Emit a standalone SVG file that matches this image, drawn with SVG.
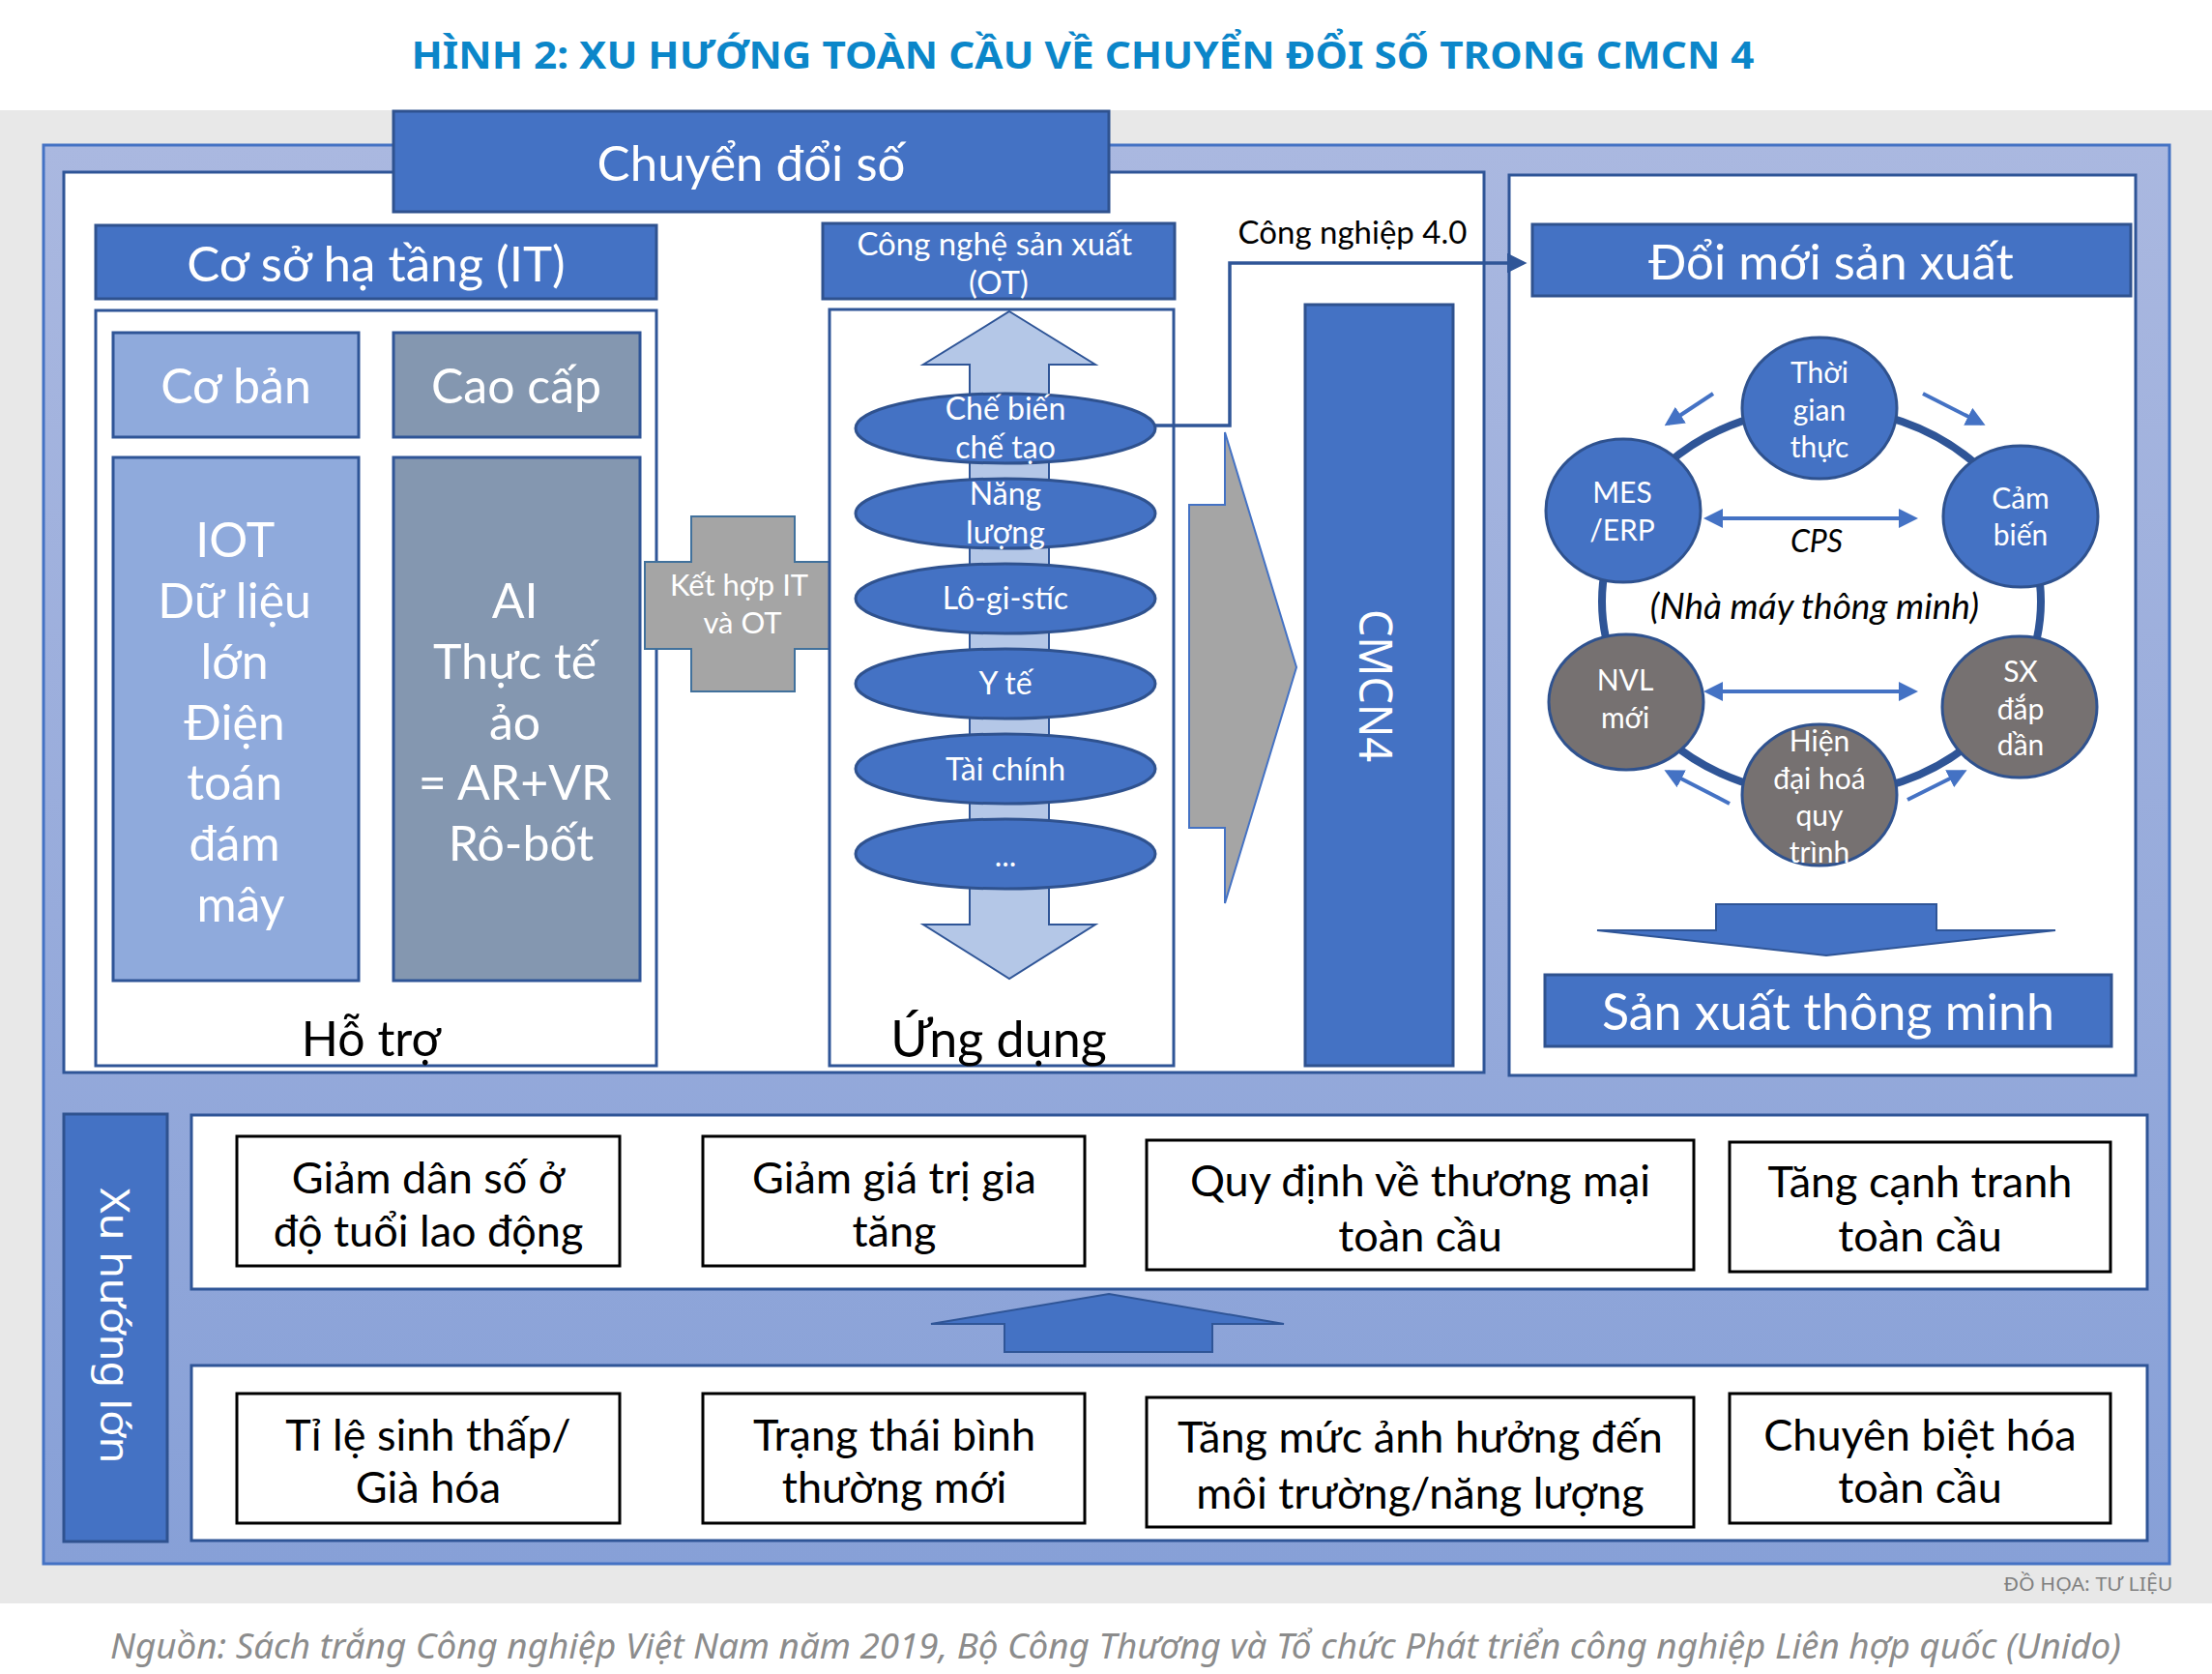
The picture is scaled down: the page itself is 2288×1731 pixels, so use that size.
<svg xmlns="http://www.w3.org/2000/svg" width="2288" height="1731" viewBox="0 0 2288 1731">
<defs>
<linearGradient id="frameGrad" x1="0" y1="0" x2="0" y2="1">
<stop offset="0" stop-color="#aab8e0"/>
<stop offset="1" stop-color="#87a0d7"/>
</linearGradient>
<marker id="ah" markerWidth="6" markerHeight="6" refX="5" refY="3" orient="auto" markerUnits="strokeWidth">
<path d="M0,0 L6,3 L0,6 z" fill="#2f5597"/>
</marker>
<marker id="ahs" markerWidth="5" markerHeight="5" refX="4" refY="2.5" orient="auto" markerUnits="strokeWidth">
<path d="M0,0 L5,2.5 L0,5 z" fill="#4472c4"/>
</marker>
<marker id="ahsStart" markerWidth="5" markerHeight="5" refX="1" refY="2.5" orient="auto-start-reverse" markerUnits="strokeWidth">
<path d="M0,0 L5,2.5 L0,5 z" fill="#4472c4"/>
</marker>
</defs>
<style>
.f{font-family:Lato,"Liberation Sans","Noto Sans",sans-serif;text-anchor:middle;dominant-baseline:central}
.g{font-family:"Noto Sans","Liberation Sans",sans-serif;text-anchor:middle;dominant-baseline:central}
.wt{fill:#ffffff}
.bk{fill:#000000}
.blue{fill:#4472c4;stroke:#2f528f;stroke-width:3}
.panel{fill:#ffffff;stroke:#2f5597;stroke-width:3}
.lb{fill:#8faadc;stroke:#2f5597;stroke-width:3}
.gb{fill:#8497b0;stroke:#2f5597;stroke-width:3}
.ell{fill:#4472c4;stroke:#2f528f;stroke-width:3}
.gc{fill:#767171;stroke:#2f528f;stroke-width:3}
.tbox{fill:#ffffff;stroke:#000000;stroke-width:3}
.sa{stroke:#4472c4;stroke-width:4;fill:none}
</style>

<rect x="0" y="0" width="2288" height="1731" fill="#ffffff"/>
<rect x="0" y="114" width="2288" height="1544" fill="#e8e8e8"/>
<text class="g" x="1120" y="55" font-size="40" font-weight="700" fill="#0b86c9" textLength="1389" lengthAdjust="spacingAndGlyphs">HÌNH 2: XU HƯỚNG TOÀN CẦU VỀ CHUYỂN ĐỔI SỐ TRONG CMCN 4</text>

<rect id="frame" x="45" y="150" width="2199" height="1467" fill="url(#frameGrad)" stroke="#4472c4" stroke-width="3"/>

<g id="left-panel"><rect x="66" y="178" width="1469" height="931" class="panel"/></g>
<g id="right-panel"><rect x="1561" y="181" width="648" height="931" class="panel"/></g>

<g id="chuyen-doi-so">
<rect x="407" y="115" width="740" height="104" class="blue"/>
<text class="f wt" x="777" y="167" font-size="51">Chuyển đổi số</text>
</g>

<g id="co-so-ha-tang">
<rect x="99" y="233" width="580" height="76" class="blue"/>
<text class="f wt" x="389" y="271" font-size="51">Cơ sở hạ tầng (IT)</text>
</g>

<g id="ho-tro">
<rect x="99" y="321" width="580" height="781" class="panel"/>
<text class="f bk" x="384" y="1073" font-size="50">Hỗ trợ</text>
</g>

<g id="co-ban">
<rect x="117" y="344" width="254" height="108" class="lb"/>
<text class="f wt" x="244" y="398" font-size="50">Cơ bản</text>
</g>
<g id="cao-cap">
<rect x="407" y="344" width="255" height="108" class="gb"/>
<text class="f wt" x="534" y="398" font-size="50">Cao cấp</text>
</g>
<g id="iot">
<rect x="117" y="473" width="254" height="541" class="lb"/>
<text class="f wt" font-size="50">
<tspan x="249" y="557">IOT</tspan>
<tspan x="249" y="620">Dữ liệu</tspan>
<tspan x="249" y="683">lớn</tspan>
<tspan x="249" y="746">Điện</tspan>
<tspan x="249" y="808">toán</tspan>
<tspan x="249" y="871">đám</tspan>
<tspan x="249" y="934">mây</tspan>
</text>
</g>
<g id="ai">
<rect x="407" y="473" width="255" height="541" class="gb"/>
<text class="f wt" font-size="50">
<tspan x="539" y="620">AI</tspan>
<tspan x="539" y="683">Thực tế</tspan>
<tspan x="539" y="746">ảo</tspan>
<tspan x="539" y="808">= AR+VR</tspan>
<tspan x="539" y="871">Rô-bốt</tspan>
</text>
</g>

<g id="ket-hop">
<polygon points="715,534 822,534 822,581 871,581 871,671 822,671 822,715 715,715 715,671 667,671 667,581 715,581" fill="#a5a5a5" stroke="#41719c" stroke-width="2"/>
<text class="f wt" font-size="31">
<tspan x="768" y="604">Kết hợp IT</tspan>
<tspan x="768" y="643">và OT</tspan>
</text>
</g>

<g id="ot-header">
<rect x="851" y="231" width="364" height="78" class="blue"/>
<text class="f wt" font-size="33">
<tspan x="1033" y="251">Công nghệ sản xuất</tspan>
<tspan x="1033" y="291">(OT)</tspan>
</text>
</g>

<g id="ung-dung">
<rect x="858" y="320" width="356" height="782" class="panel"/>
<polygon points="1044,322 1133,377 1085,377 1085,956 1133,956 1044,1012 955,956 1003,956 1003,377 955,377" fill="#b4c7e7" stroke="#2f5597" stroke-width="2"/>
<text class="f bk" x="1033" y="1073" font-size="52">Ứng dụng</text>
</g>

<g id="e-che-bien">
<ellipse cx="1040" cy="443" rx="155" ry="36" class="ell"/>
<text class="f wt" font-size="32"><tspan x="1040" y="421">Chế biến</tspan><tspan x="1040" y="461">chế tạo</tspan></text>
</g>
<g id="e-nang-luong">
<ellipse cx="1040" cy="531" rx="155" ry="36" class="ell"/>
<text class="f wt" font-size="32"><tspan x="1040" y="509">Năng</tspan><tspan x="1040" y="549">lượng</tspan></text>
</g>
<g id="e-logistic">
<ellipse cx="1040" cy="619" rx="155" ry="36" class="ell"/>
<text class="f wt" x="1040" y="617" font-size="32">Lô-gi-stíc</text>
</g>
<g id="e-y-te">
<ellipse cx="1040" cy="707" rx="155" ry="36" class="ell"/>
<text class="f wt" x="1040" y="705" font-size="32">Y tế</text>
</g>
<g id="e-tai-chinh">
<ellipse cx="1040" cy="795" rx="155" ry="36" class="ell"/>
<text class="f wt" x="1040" y="794" font-size="32">Tài chính</text>
</g>
<g id="e-etc">
<ellipse cx="1040" cy="883" rx="155" ry="36" class="ell"/>
<text class="f wt" x="1040" y="883" font-size="32">...</text>
</g>

<g id="gray-arrow">
<polygon points="1230,522 1267,522 1267,447 1341,690 1267,934 1267,856 1230,856" fill="#a5a5a5" stroke="#4472c4" stroke-width="2"/>
</g>

<g id="cmcn4">
<rect x="1350" y="315" width="153" height="787" class="blue"/>
<text class="g wt" font-size="48" transform="translate(1424,709) rotate(90)" textLength="158" lengthAdjust="spacingAndGlyphs">CMCN4</text>
</g>

<text class="f bk" x="1399" y="239" font-size="33">Công nghiệp 4.0</text>

<g id="connectors">
<path d="M1195,440 H1272 V272 H1576" fill="none" stroke="#2f5597" stroke-width="3.5" marker-end="url(#ah)"/>
<ellipse cx="1884" cy="622" rx="227" ry="200" fill="none" stroke="#2f5597" stroke-width="8"/>
<line x1="1772" y1="407" x2="1725" y2="438" class="sa" marker-end="url(#ahs)"/>
<line x1="1989" y1="407" x2="2050" y2="438" class="sa" marker-end="url(#ahs)"/>
<line x1="1789" y1="831" x2="1725" y2="798" class="sa" marker-end="url(#ahs)"/>
<line x1="1973" y1="827" x2="2031" y2="798" class="sa" marker-end="url(#ahs)"/>
<line x1="1778" y1="536" x2="1980" y2="536" class="sa" marker-start="url(#ahsStart)" marker-end="url(#ahs)"/>
<line x1="1778" y1="715" x2="1980" y2="715" class="sa" marker-start="url(#ahsStart)" marker-end="url(#ahs)"/>
<polygon points="1147,1338 1328,1369 1254,1369 1254,1398 1039,1398 1039,1369 963,1369" fill="#4472c4" stroke="#2f5597" stroke-width="2"/>
<polygon points="1775,935 2003,935 2003,962 2126,962 1889,988 1652,962 1775,962" fill="#4472c4" stroke="#2f5597" stroke-width="2"/>
</g>

<g id="doi-moi">
<rect x="1585" y="232" width="619" height="74" class="blue"/>
<text class="f wt" x="1894" y="269" font-size="51">Đổi mới sản xuất</text>
</g>

<g id="c-thoi-gian">
<ellipse cx="1882" cy="422" rx="80" ry="73" class="ell"/>
<text class="f wt" font-size="30"><tspan x="1882" y="384">Thời</tspan><tspan x="1882" y="423">gian</tspan><tspan x="1882" y="461">thực</tspan></text>
</g>
<g id="c-mes">
<ellipse cx="1679" cy="528" rx="80" ry="74" class="ell"/>
<text class="f wt" font-size="30"><tspan x="1678" y="508">MES</tspan><tspan x="1678" y="547">/ERP</tspan></text>
</g>
<g id="c-cam-bien">
<ellipse cx="2090" cy="534" rx="80" ry="73" class="ell"/>
<text class="f wt" font-size="30"><tspan x="2090" y="514">Cảm</tspan><tspan x="2090" y="552">biến</tspan></text>
</g>
<g id="c-nvl">
<ellipse cx="1682" cy="726" rx="80" ry="70" class="gc"/>
<text class="f wt" font-size="30"><tspan x="1681" y="702">NVL</tspan><tspan x="1681" y="741">mới</tspan></text>
</g>
<g id="c-sx">
<ellipse cx="2089" cy="731" rx="80" ry="73" class="gc"/>
<text class="f wt" font-size="30"><tspan x="2090" y="693">SX</tspan><tspan x="2090" y="732">đắp</tspan><tspan x="2090" y="769">dần</tspan></text>
</g>
<g id="c-hien-dai">
<ellipse cx="1882" cy="822" rx="80" ry="73" class="gc"/>
<text class="f wt" font-size="30"><tspan x="1882" y="765">Hiện</tspan><tspan x="1882" y="804">đại hoá</tspan><tspan x="1882" y="842">quy</tspan><tspan x="1882" y="880">trình</tspan></text>
</g>
<text class="f bk" x="1879" y="558" font-size="32" font-style="italic">CPS</text>
<text class="f bk" x="1877" y="625" font-size="37" font-style="italic">(Nhà máy thông minh)</text>

<g id="san-xuat-thong-minh">
<rect x="1598" y="1008" width="586" height="74" class="blue"/>
<text class="f wt" x="1891" y="1045" font-size="52">Sản xuất thông minh</text>
</g>

<g id="xu-huong-lon">
<rect x="66" y="1152" width="107" height="442" class="blue"/>
<text class="g wt" font-size="42" transform="translate(120,1371) rotate(90)" textLength="285" lengthAdjust="spacingAndGlyphs">Xu hướng lớn</text>
</g>

<g id="band-top"><rect x="198" y="1153" width="2023" height="180" class="panel"/></g>
<g id="band-bottom"><rect x="198" y="1412" width="2023" height="181" class="panel"/></g>

<g id="b-giam-dan-so">
<rect x="245" y="1175" width="396" height="134" class="tbox"/>
<text class="f bk" font-size="45"><tspan x="443" y="1217">Giảm dân số ở</tspan><tspan x="443" y="1272">độ tuổi lao động</tspan></text>
</g>
<g id="b-giam-gia-tri">
<rect x="727" y="1175" width="395" height="134" class="tbox"/>
<text class="f bk" font-size="45"><tspan x="925" y="1217">Giảm giá trị gia</tspan><tspan x="925" y="1272">tăng</tspan></text>
</g>
<g id="b-quy-dinh">
<rect x="1186" y="1179" width="566" height="134" class="tbox"/>
<text class="f bk" font-size="45"><tspan x="1469" y="1220">Quy định về thương mại</tspan><tspan x="1469" y="1277">toàn cầu</tspan></text>
</g>
<g id="b-tang-canh-tranh">
<rect x="1789" y="1181" width="394" height="134" class="tbox"/>
<text class="f bk" font-size="45"><tspan x="1986" y="1221">Tăng cạnh tranh</tspan><tspan x="1986" y="1277">toàn cầu</tspan></text>
</g>
<g id="b-ti-le-sinh">
<rect x="245" y="1441" width="396" height="134" class="tbox"/>
<text class="f bk" font-size="45"><tspan x="443" y="1483">Tỉ lệ sinh thấp/</tspan><tspan x="443" y="1537">Già hóa</tspan></text>
</g>
<g id="b-trang-thai">
<rect x="727" y="1441" width="395" height="134" class="tbox"/>
<text class="f bk" font-size="45"><tspan x="925" y="1483">Trạng thái bình</tspan><tspan x="925" y="1537">thường mới</tspan></text>
</g>
<g id="b-tang-muc">
<rect x="1186" y="1445" width="566" height="134" class="tbox"/>
<text class="f bk" font-size="45"><tspan x="1469" y="1485">Tăng mức ảnh hưởng đến</tspan><tspan x="1469" y="1543">môi trường/năng lượng</tspan></text>
</g>
<g id="b-chuyen-biet">
<rect x="1789" y="1441" width="394" height="134" class="tbox"/>
<text class="f bk" font-size="45"><tspan x="1986" y="1483">Chuyên biệt hóa</tspan><tspan x="1986" y="1537">toàn cầu</tspan></text>
</g>

<text class="g" x="2160" y="1638" font-size="19" fill="#808080" textLength="175" lengthAdjust="spacingAndGlyphs">ĐỒ HỌA: TƯ LIỆU</text>
<text class="g" x="1154" y="1701" font-size="36" font-style="italic" fill="#8c8c8c" textLength="2080" lengthAdjust="spacingAndGlyphs">Nguồn: Sách trắng Công nghiệp Việt Nam năm 2019, Bộ Công Thương và Tổ chức Phát triển công nghiệp Liên hợp quốc (Unido)</text>
</svg>
